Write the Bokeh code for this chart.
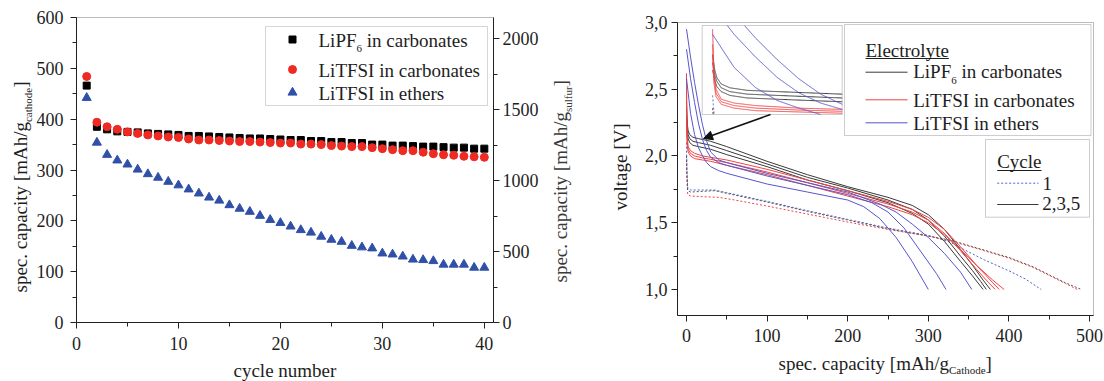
import numpy as np
from bokeh.plotting import figure
from bokeh.models import (Range1d, LinearAxis, FixedTicker, Label, BoxAnnotation,
                          Arrow, NormalHead, CustomJSTickFormatter)
from bokeh.layouts import row
from bokeh.embed import file_html
from bokeh.resources import INLINE

# ---------------- data: left panel (capacity vs cycle) ----------------
cycles = list(range(1, 41))
cap_lipf6_carb = [466, 385, 380, 376, 375, 374, 372, 371, 370, 369, 367, 367, 366, 365, 364,
                  363, 362, 362, 361, 360, 359, 359, 357, 357, 355, 355, 353, 353, 350, 350,
                  348, 348, 347, 346, 346, 345, 344, 344, 342, 342]
cap_litfsi_carb = [484, 394, 385, 380, 375, 372, 369, 367, 365, 364, 361, 359, 359, 358, 357,
                   356, 356, 355, 354, 353, 353, 351, 351, 350, 348, 347, 346, 346, 344, 342,
                   340, 338, 338, 335, 332, 330, 329, 327, 326, 325]
cap_litfsi_eth = [442, 354, 330, 319, 311, 301, 292, 285, 277, 270, 262, 254, 246, 240, 231,
                  224, 218, 210, 202, 196, 189, 182, 177, 169, 163, 159, 151, 148, 146, 136,
                  134, 130, 124, 123, 121, 114, 114, 114, 108, 108]

# ---------------- data: right panel (voltage profiles) ----------------
# LiPF6 in carbonates, cycles 2,3,5 (solid)
k2_cap = [0, 0.5, 1, 2, 4, 8, 15, 30, 50, 100, 150, 200, 250, 280, 300, 320, 340, 355, 368, 377]
k2_v = [2.42, 2.30, 2.24, 2.19, 2.16, 2.14, 2.13, 2.11, 2.07, 1.96, 1.86, 1.77, 1.69, 1.63, 1.56,
        1.45, 1.30, 1.18, 1.07, 1.00]
k3_cap = [0, 0.5, 1, 2, 4, 8, 15, 30, 50, 100, 150, 200, 250, 280, 300, 320, 340, 355, 365, 372]
k3_v = [2.36, 2.26, 2.21, 2.16, 2.13, 2.11, 2.10, 2.08, 2.04, 1.94, 1.84, 1.76, 1.67, 1.60, 1.52,
        1.40, 1.25, 1.14, 1.06, 1.00]
k5_cap = [0, 0.5, 1, 2, 4, 8, 15, 30, 50, 100, 150, 200, 250, 280, 300, 320, 340, 355, 368]
k5_v = [2.30, 2.22, 2.17, 2.13, 2.10, 2.08, 2.07, 2.05, 2.01, 1.92, 1.82, 1.74, 1.65, 1.57, 1.49,
        1.36, 1.21, 1.10, 1.00]
# LiTFSI in carbonates, cycles 2,3,5 (solid)
r2_cap = [0, 0.3, 0.8, 2, 5, 10, 20, 30, 50, 100, 150, 200, 250, 280, 300, 320, 340, 360, 380, 388]
r2_v = [2.62, 2.30, 2.15, 2.07, 2.04, 2.02, 2.00, 1.99, 1.97, 1.90, 1.82, 1.74, 1.66, 1.60, 1.54,
        1.45, 1.32, 1.18, 1.05, 1.00]
r3_cap = [0, 0.3, 0.8, 2, 5, 10, 20, 30, 50, 100, 150, 200, 250, 280, 300, 320, 340, 360, 375, 383]
r3_v = [2.50, 2.25, 2.12, 2.05, 2.02, 2.00, 1.985, 1.975, 1.95, 1.88, 1.80, 1.72, 1.64, 1.58, 1.52,
        1.42, 1.29, 1.15, 1.05, 1.00]
r5_cap = [0, 0.3, 0.8, 2, 5, 10, 20, 30, 50, 100, 150, 200, 250, 280, 300, 320, 340, 360, 380, 394]
r5_v = [2.42, 2.20, 2.09, 2.03, 2.00, 1.98, 1.97, 1.96, 1.93, 1.86, 1.78, 1.70, 1.62, 1.56, 1.50,
        1.41, 1.30, 1.18, 1.07, 1.00]
# LiTFSI in ethers, cycles 2,3,5 (solid)
b2_cap = [0, 5, 10, 15, 20, 25, 30, 40, 50, 100, 150, 200, 220, 240, 260, 280, 300]
b2_v = [2.58, 2.32, 2.16, 2.06, 2.00, 1.95, 1.92, 1.89, 1.87, 1.79, 1.73, 1.67, 1.62, 1.53, 1.39,
        1.21, 1.00]
b3_cap = [0, 5, 10, 15, 20, 25, 30, 40, 50, 100, 150, 200, 230, 250, 270, 290, 310, 322]
b3_v = [2.80, 2.58, 2.40, 2.24, 2.12, 2.04, 1.99, 1.95, 1.93, 1.85, 1.78, 1.71, 1.65, 1.58, 1.46,
        1.29, 1.12, 1.00]
b5_cap = [0, 5, 10, 15, 20, 25, 30, 40, 50, 100, 150, 200, 240, 260, 280, 300, 320, 340, 354]
b5_v = [2.95, 2.74, 2.55, 2.38, 2.23, 2.11, 2.03, 1.97, 1.95, 1.87, 1.80, 1.73, 1.64, 1.58, 1.49,
        1.39, 1.27, 1.13, 1.00]
# cycle 1 (dotted)
k1_cap = [0, 0.5, 1.5, 5, 20, 35, 50, 100, 150, 200, 250, 300, 327, 350, 400, 430, 450, 470, 490]
k1_v = [2.00, 1.85, 1.74, 1.73, 1.735, 1.74, 1.72, 1.655, 1.585, 1.52, 1.455, 1.40, 1.37, 1.33,
        1.24, 1.17, 1.11, 1.05, 1.00]
r1_cap = [0, 0.5, 1.5, 5, 20, 40, 60, 100, 150, 200, 250, 300, 327, 350, 400, 430, 450, 470, 485]
r1_v = [2.00, 1.85, 1.71, 1.70, 1.695, 1.69, 1.67, 1.625, 1.565, 1.505, 1.45, 1.40, 1.365, 1.325,
        1.235, 1.165, 1.105, 1.045, 1.00]
b1_cap = [0, 0.5, 1.5, 5, 20, 35, 50, 100, 150, 200, 250, 300, 327, 344, 370, 400, 420, 440]
b1_v = [2.10, 1.90, 1.76, 1.745, 1.745, 1.745, 1.725, 1.66, 1.59, 1.525, 1.46, 1.405, 1.355, 1.30,
        1.22, 1.14, 1.08, 1.00]

# inset (magnified) data window
inset_cap_window = [-2.4, 30.0]
inset_v_window = [1.95, 2.65]

# ticks
x1_ticks = [0, 10, 20, 30, 40]
x1_minor = [5, 15, 25, 35]
y1_ticks = [0, 100, 200, 300, 400, 500, 600]
y1_minor = [50, 150, 250, 350, 450, 550]
y1r_ticks = [0, 500, 1000, 1500, 2000]
y1r_minor = [250, 750, 1250, 1750]
x2_ticks = [0, 100, 200, 300, 400, 500]
x2_minor = [50, 150, 250, 350, 450]
y2_ticks = [1.0, 1.5, 2.0, 2.5, 3.0]
y2_minor = [1.25, 1.75, 2.25, 2.75]

# axis extents
x1_lim = (0, 40.9)
y1_lim = (0, 600)
y1r_lim = (0, 2150)
x2_lim = (-11.17, 504.96)
y2_lim = (0.805, 3.0)

# ---------------- styling / layout ----------------
FONT = "Liberation Serif"
TXT = "#1e1e1e"
C_BLACK, C_RED, C_BLUE = "#3a3a3a", "#f04444", "#5656cc"
C_DOT_BLACK, C_DOT_RED, C_DOT_BLUE = "#555555", "#f04444", "#5060d0"
BASE_CORR = 0.34  # em; compensates label baseline placement

# Times metrics (per 1000 em)
W = {' ': 250, ',': 250, '.': 250, '/': 278, '[': 333, ']': 333,
     'A': 722, 'C': 667, 'E': 611, 'F': 556, 'I': 333, 'L': 611, 'P': 556, 'S': 556, 'T': 611,
     'V': 722, 'a': 444, 'b': 500, 'c': 444, 'd': 500, 'e': 444, 'f': 333, 'g': 500, 'h': 500,
     'i': 278, 'l': 278, 'm': 778, 'n': 500, 'o': 500, 'p': 500, 'r': 333, 's': 389, 't': 278,
     'u': 500, 'v': 500, 'y': 500}


def tw(s, size):
    return sum(W.get(c, 500) for c in s) / 1000.0 * size


# page-pixel position of each inner plot box
F1 = dict(L=76, R=493, T=17, B=322, x=x1_lim, y=y1_lim, ox=0, W=588)
F2 = dict(L=677, R=1093, T=22, B=315, x=x2_lim, y=y2_lim, ox=588, W=516)
H = 381


def make_conv(F):
    def conv(px, py):
        x = F['x'][0] + (px - F['L']) / (F['R'] - F['L']) * (F['x'][1] - F['x'][0])
        y = F['y'][0] + (F['B'] - py) / (F['B'] - F['T']) * (F['y'][1] - F['y'][0])
        return x, y
    return conv


c1 = make_conv(F1)
c2 = make_conv(F2)


def put(p, conv, pieces, px, py, vertical=False, color=TXT):
    pos = 0.0
    for text, size, shift in pieces:
        if text.startswith(" "):
            pos += tw(" ", size)
            text = text[1:]
        corr = -BASE_CORR * size
        if vertical:
            x, y = conv(px + shift + corr, py - pos)
            ang = np.pi / 2
        else:
            x, y = conv(px + pos, py + shift + corr)
            ang = 0.0
        p.add_layout(Label(x=x, y=y, text=text, text_font=FONT, text_font_size=f"{size}px",
                           text_color=color, text_align="left", text_baseline="alphabetic",
                           angle=ang))
        pos += tw(text, size)


def style_axis(ax, ticks, minor, bounds, fixed, fmt=None, standoff=6):
    ax.ticker = FixedTicker(ticks=ticks, minor_ticks=minor)
    ax.bounds = bounds
    ax.fixed_location = fixed
    if fmt is not None:
        ax.formatter = fmt
    ax.major_label_text_font = FONT
    ax.major_label_text_font_size = "18px"
    ax.major_label_text_color = TXT
    ax.axis_line_color = "#222222"
    ax.major_tick_line_color = "#222222"
    ax.minor_tick_line_color = "#222222"
    ax.major_tick_in = 0
    ax.major_tick_out = 6
    ax.minor_tick_in = 0
    ax.minor_tick_out = 4
    ax.major_label_standoff = standoff


def box(p, conv, l, t, r, b, color, fill="white"):
    x0, y0 = conv(l, b)
    x1, y1 = conv(r, t)
    p.add_layout(BoxAnnotation(left=x0, right=x1, bottom=y0, top=y1, fill_color=fill,
                               fill_alpha=1.0, line_color=color, line_width=1, level="underlay"))


def hline(p, conv, xa, xb, y, **kw):
    x0, yy = conv(xa, y)
    x1, _ = conv(xb, y)
    p.line([x0, x1], [yy, yy], **kw)


def make_fig(F, conv):
    xa, ya = conv(F['ox'], H)
    xb, yb = conv(F['ox'] + F['W'], 0)
    p = figure(width=F['W'], height=H, output_backend="svg", toolbar_location=None, title=None,
               x_range=Range1d(xa, xb), y_range=Range1d(ya, yb),
               min_border_left=0, min_border_right=0, min_border_top=0, min_border_bottom=0)
    p.grid.visible = False
    p.outline_line_color = None
    p.background_fill_color = "white"
    p.border_fill_color = "white"
    p.add_layout(BoxAnnotation(left=F['x'][0], right=F['x'][1], bottom=F['y'][0], top=F['y'][1],
                               fill_color=None, line_color="#222222", line_width=1))
    return p


# ================= left figure =================
p1 = make_fig(F1, c1)
style_axis(p1.xaxis[0], x1_ticks, x1_minor, x1_lim, y1_lim[0], standoff=8)
style_axis(p1.yaxis[0], y1_ticks, y1_minor, y1_lim, x1_lim[0], standoff=7)
_, s_lo = c1(0, H)
_, s_hi = c1(0, 0)
scale_s = (y1r_lim[1] - y1r_lim[0]) / (y1_lim[1] - y1_lim[0])
p1.extra_y_ranges = {"sulfur": Range1d(s_lo * scale_s, s_hi * scale_s)}
axr = LinearAxis(y_range_name="sulfur")
style_axis(axr, y1r_ticks, y1r_minor, y1r_lim, x1_lim[1], standoff=3)
p1.add_layout(axr, "right")

p1.scatter(cycles, cap_litfsi_eth, marker="triangle", size=9, color="#3050a8")
p1.scatter(cycles, cap_lipf6_carb, marker="square", size=7, color="black")
p1.scatter(cycles, cap_litfsi_carb, marker="circle", size=8, color="#ee2a22")

# legend (left)
box(p1, c1, 265, 26, 487, 105, "#777777")
for (py, marker, size, col) in [(39, "square", 7, "black"), (69, "circle", 8, "#ee2a22"),
                                 (92, "triangle", 9, "#3050a8")]:
    mx, my = c1(292, py)
    p1.scatter([mx], [my], marker=marker, size=size, color=col)
put(p1, c1, [("LiPF", 19, 0), ("6", 11, 6), (" in carbonates", 19, 0)], 318, 46)
put(p1, c1, [("LiTFSI in carbonates", 19, 0)], 318, 76)
put(p1, c1, [("LiTFSI in ethers", 19, 0)], 318, 99.3)

# axis titles (left)
put(p1, c1, [("spec. capacity [mAh/g", 19, 0), ("cathode", 11, 5), ("]", 19, 0)], 26, 292,
    vertical=True)
put(p1, c1, [("spec. capacity [mAh/g", 19, 0), ("sulfur", 11, 5), ("]", 19, 0)], 566, 282,
    vertical=True, color="#3a3a3a")
put(p1, c1, [("cycle number", 19, 0)], 233, 376)

# ================= right figure =================
p2 = make_fig(F2, c2)
style_axis(p2.xaxis[0], x2_ticks, x2_minor, x2_lim, y2_lim[0], standoff=7)
style_axis(p2.yaxis[0], y2_ticks, y2_minor, y2_lim, x2_lim[0],
           fmt=CustomJSTickFormatter(code="return tick.toFixed(1).replace('.', ',');"),
           standoff=4)

solid = [(k2_cap, k2_v, C_BLACK), (k3_cap, k3_v, C_BLACK), (k5_cap, k5_v, C_BLACK),
         (r2_cap, r2_v, C_RED), (r3_cap, r3_v, C_RED), (r5_cap, r5_v, C_RED),
         (b2_cap, b2_v, C_BLUE), (b3_cap, b3_v, C_BLUE), (b5_cap, b5_v, C_BLUE)]
dotted = [(b1_cap, b1_v, C_DOT_BLUE), (r1_cap, r1_v, C_DOT_RED), (k1_cap, k1_v, C_DOT_BLACK)]

for xs, vs, col in dotted:
    p2.line(xs, vs, line_color=col, line_width=1, line_dash="2 2")
for xs, vs, col in solid:
    p2.line(xs, vs, line_color=col, line_width=1)

# inset: magnified view of the start of the discharge
inset_l, inset_t, inset_r, inset_b = 701.7, 25, 841.7, 114
box(p2, c2, inset_l, inset_t, inset_r, inset_b, "#555555")
ix0, iy0 = c2(inset_l, inset_b)
ix1, iy1 = c2(inset_r, inset_t)


def to_inset(xs, vs, n=60):
    xs = np.asarray(xs, float)
    vs = np.asarray(vs, float)
    idx = np.arange(len(xs))
    t = np.linspace(0, len(xs) - 1, (len(xs) - 1) * n + 1)
    xd = np.interp(t, idx, xs)
    vd = np.interp(t, idx, vs)
    a0, a1 = inset_cap_window
    b0, b1 = inset_v_window
    inside = (xd >= a0) & (xd <= a1) & (vd >= b0) & (vd <= b1)
    X = ix0 + (xd - a0) / (a1 - a0) * (ix1 - ix0)
    Y = iy0 + (vd - b0) / (b1 - b0) * (iy1 - iy0)
    X = np.where(inside, X, np.nan)
    Y = np.where(inside, Y, np.nan)
    return X, Y


for xs, vs, col in dotted:
    X, Y = to_inset(xs, vs)
    p2.line(X, Y, line_color=col, line_width=1, line_dash="2 2")
for xs, vs, col in solid:
    X, Y = to_inset(xs, vs)
    p2.line(X, Y, line_color=col, line_width=1)

ax0, ay0 = c2(770, 114)
ax1, ay1 = c2(703, 138)
p2.add_layout(Arrow(end=NormalHead(size=9, fill_color="#111111", line_color="#111111"),
                    x_start=ax0, y_start=ay0, x_end=ax1, y_end=ay1,
                    line_color="#111111", line_width=1.5))

# legend: electrolyte
box(p2, c2, 844, 24, 1090.5, 135, "#555566")
put(p2, c2, [("Electrolyte", 19, 0)], 865, 56)
hline(p2, c2, 865, 865 + tw("Electrolyte", 19), 58, line_color=TXT, line_width=1)
for py_line, py_txt, col, pieces in [
        (71.7, 77.6, C_BLACK, [("LiPF", 19, 0), ("6", 11, 6), (" in carbonates", 19, 0)]),
        (99.3, 106.6, C_RED, [("LiTFSI in carbonates", 19, 0)]),
        (122.3, 129.3, C_BLUE, [("LiTFSI in ethers", 19, 0)])]:
    hline(p2, c2, 865, 907, py_line, line_color=col, line_width=1)
    put(p2, c2, pieces, 912.7, py_txt)

# legend: cycle
box(p2, c2, 985, 139, 1089, 216.7, "#555566")
put(p2, c2, [("Cycle", 19, 0)], 996.7, 167.6)
hline(p2, c2, 996.7, 996.7 + tw("Cycle", 19), 170, line_color=TXT, line_width=1)
hline(p2, c2, 996.7, 1038, 182.7, line_color=C_DOT_BLUE, line_width=1, line_dash="2 2")
put(p2, c2, [("1", 19, 0)], 1042, 189.5)
hline(p2, c2, 996.7, 1038, 204, line_color=C_BLACK, line_width=1)
put(p2, c2, [("2,3,5", 19, 0)], 1041.7, 209.5)

# axis titles (right)
put(p2, c2, [("voltage [V]", 19, 0)], 626, 210, vertical=True)
put(p2, c2, [("spec. capacity [mAh/g", 19, 0), ("Cathode", 11, 4), ("]", 19, 0)], 778, 369)

layout = row(p1, p2)
open("out.html", "w").write(file_html(layout, INLINE))
